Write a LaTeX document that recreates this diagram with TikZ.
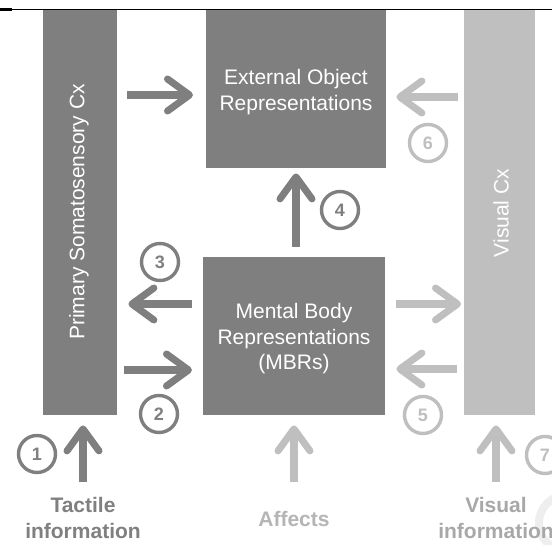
\documentclass[tikz,border=0pt]{standalone}
\usepackage{fontspec}
\setmainfont{Liberation Sans}
\usetikzlibrary{arrows.meta}
\definecolor{dk}{HTML}{7F7F7F}
\definecolor{lt}{HTML}{BFBFBF}
\definecolor{tact}{HTML}{808080}
\definecolor{aff}{HTML}{B5B5B5}
\definecolor{vinf}{HTML}{A8A8A8}
\definecolor{faint}{HTML}{EEEEEE}
\tikzset{
  blk/.style={anchor=north west, inner sep=0pt, draw=none},
  boxtext/.style={text=white, font=\fontsize{21}{25.5}\selectfont, align=center},
  arr/.style={line width=8pt, -{Straight Barb[round, line width=7pt, length=22pt, width=32pt]}},
  darr/.style={arr, draw=dk},
  larr/.style={arr, draw=lt},
  num/.style={circle, draw, line width=3.4pt, minimum size=37pt, inner sep=0pt, font=\fontsize{18}{18}\selectfont\bfseries},
  dnum/.style={num, draw=dk, text=dk},
  lnum/.style={num, draw=lt, text=lt},
  lbl/.style={font=\fontsize{21}{26}\selectfont\bfseries, align=center}
}
\begin{document}
\begin{tikzpicture}[x=1pt,y=-1pt]
\clip (0,0) rectangle (552,545);
\fill[white] (0,0) rectangle (552,545);
% faint arc
\draw[faint, line width=8pt] (567,523) circle (28pt);
% blocks
\node[blk, fill=dk, minimum width=74pt, minimum height=405pt] (ss) at (43,10) {};
\node[blk, fill=dk, minimum width=180pt, minimum height=158pt] (eor) at (206,10) {};
\node[blk, fill=dk, minimum width=182pt, minimum height=158pt] (mbr) at (203,257) {};
\node[blk, fill=lt, minimum width=71pt, minimum height=405pt] (vis) at (464,10) {};
% texts in blocks
\node[boxtext, rotate=90] (sst) at (79,212) {Primary Somatosensory Cx};
\node[boxtext, rotate=90] (vist) at (501,213) {Visual Cx};
\node[boxtext] (eort) at (296,92) {External Object\\Representations};
\node[boxtext] (mbrt) at (294,339) {Mental Body\\Representations\\(MBRs)};
% top rule
\draw[black, line width=1.5pt] (0,9.5) -- (552,9.5);
\draw[black, line width=2.5pt] (0,9.5) -- (12,9.5);
% bottom labels
\node[lbl, text=tact] (tactl) at (83,518) {Tactile\\information};
\node[lbl, text=aff] (affl) at (294,519) {Affects};
\node[lbl, text=vinf] (visl) at (496,518) {Visual\\information};
% arrows
\draw[darr] ([xshift=10pt]ss.east |- 0,95) -- ([xshift=-13pt]eor.west |- 0,95);
\draw[darr] ([xshift=-11pt]mbr.west |- 0,304) -- ([xshift=11pt]ss.east |- 0,304);
\draw[darr] ([xshift=7pt]ss.east |- 0,370) -- ([xshift=-11pt]mbr.west |- 0,370);
\draw[darr] ([yshift=10pt]mbr.north -| 296,0) -- ([yshift=-5pt]eor.south -| 296,0);
\draw[larr] ([xshift=-6pt]vis.west |- 0,97) -- ([xshift=10pt]eor.east |- 0,97);
\draw[larr] ([xshift=11pt]mbr.east |- 0,304) -- ([xshift=-3pt]vis.west |- 0,304);
\draw[larr] ([xshift=-7pt]vis.west |- 0,369) -- ([xshift=11pt]mbr.east |- 0,369);
\draw[darr] (tactl.north |- 0,482) -- ([yshift=-10pt]ss.south -| tactl.north);
\draw[larr] (affl.north |- 0,482) -- ([yshift=-10pt]mbr.south -| affl.north);
\draw[larr] (visl.north |- 0,482) -- ([yshift=-10pt]vis.south -| visl.north);
% numbers
\node[dnum] (n1) at (37,454) {1};
\node[dnum] (n2) at (159,414) {2};
\node[dnum] (n3) at (160,262) {3};
\node[dnum] (n4) at (340,210) {4};
\node[lnum] (n5) at (423,415) {5};
\node[lnum] (n6) at (428,143) {6};
\node[lnum] (n7) at (545,455) {7};
\end{tikzpicture}
\end{document}
